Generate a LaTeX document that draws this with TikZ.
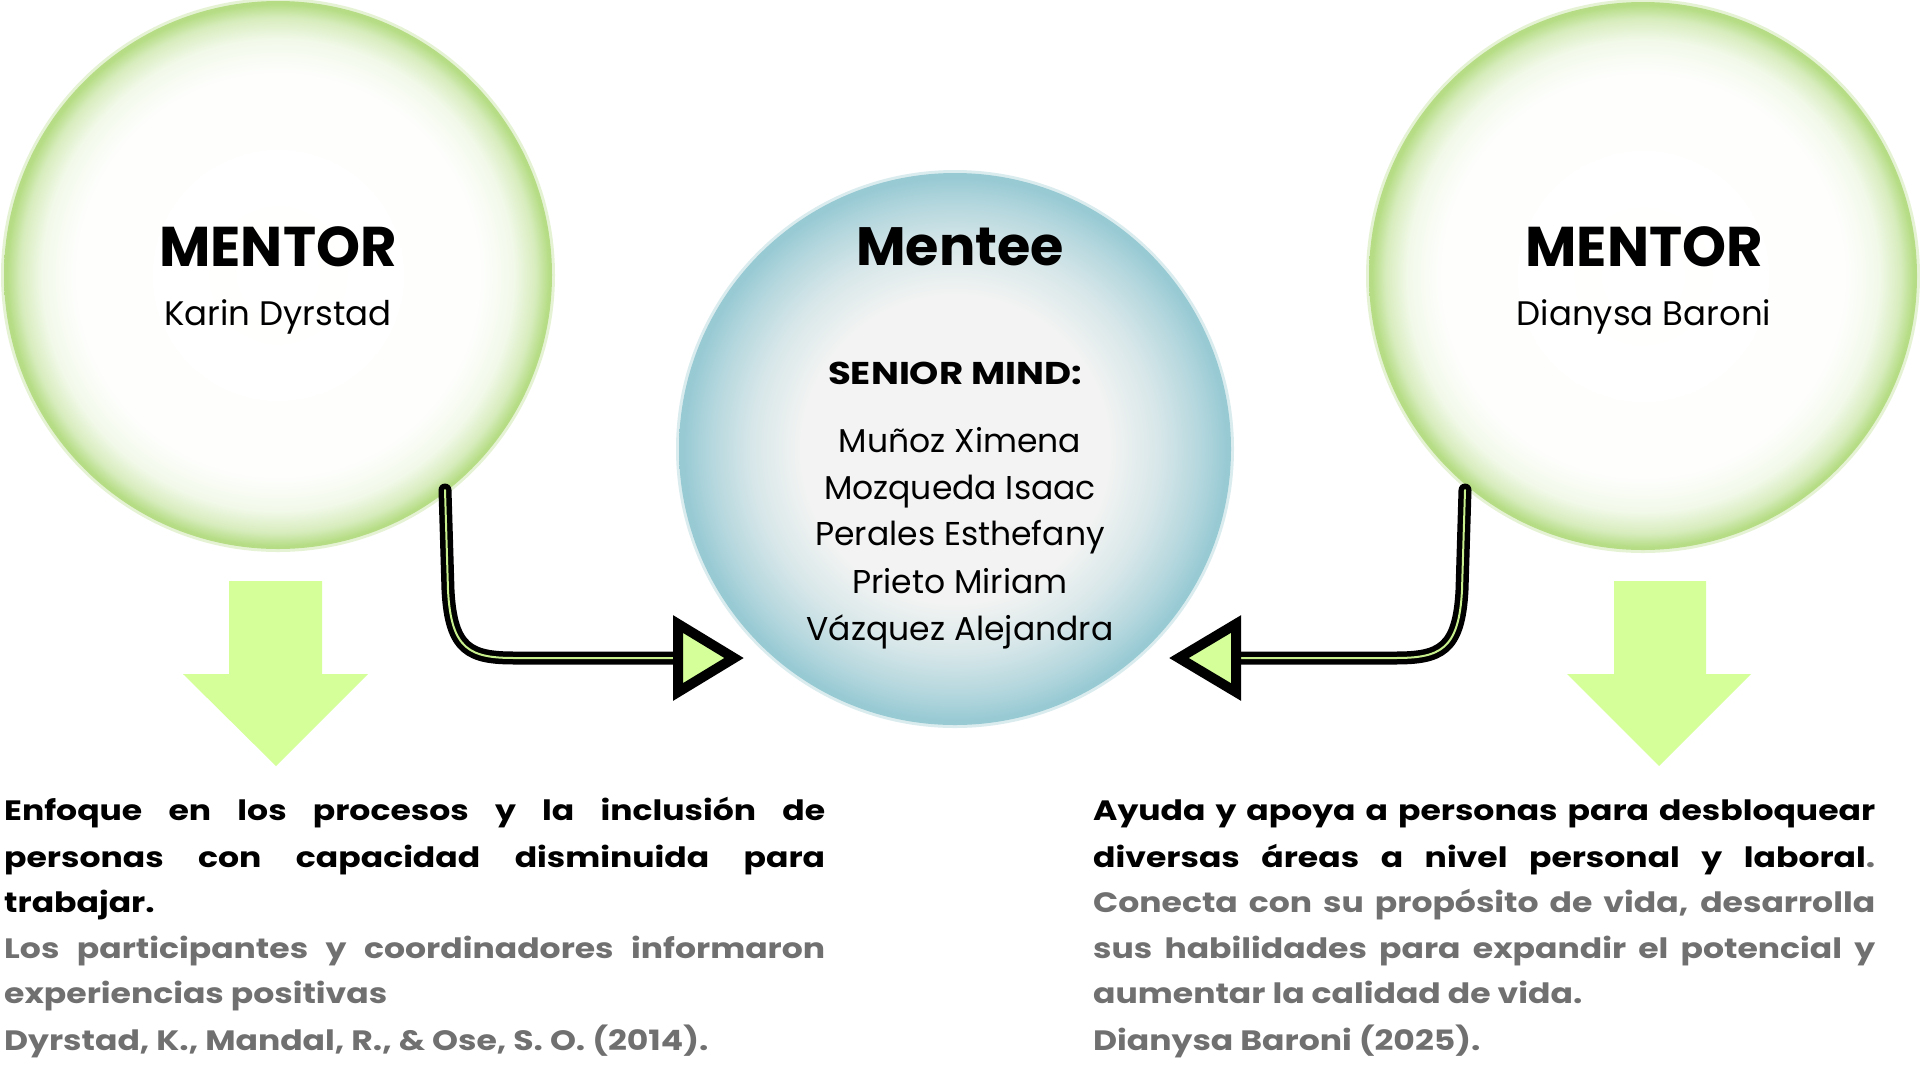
\documentclass[tikz,border=0pt]{standalone}
\usepackage{fontspec}
\setmainfont{Poppins}
\newfontfamily\widefont[FakeStretch=1.18]{Poppins}
\definecolor{gedge}{HTML}{B6DD86}
\definecolor{tedge}{HTML}{98CAD4}
\definecolor{tcen}{HTML}{F2F3F2}
\definecolor{lime}{HTML}{D4FF99}
\definecolor{limeline}{HTML}{C8F08C}
\definecolor{txtgray}{HTML}{707070}
\pgfdeclareradialshading{gball}{\pgfpointorigin}{color(0bp)=(white); color(18.5bp)=(white!98!gedge); color(21.5bp)=(gedge!18!white); color(23.5bp)=(gedge!55!white); color(24.7bp)=(gedge); color(25bp)=(gedge); color(50bp)=(gedge)}
\pgfdeclareradialshading{tball}{\pgfpointorigin}{color(0bp)=(tcen); color(14bp)=(tcen); color(18.5bp)=(tedge!30!tcen); color(22.5bp)=(tedge!72!tcen); color(24.6bp)=(tedge); color(25bp)=(tedge); color(50bp)=(tedge)}
\tikzset{
  greenball/.style={circle, minimum size=548pt, inner sep=0pt, shade, shading=gball},
  tealball/.style={circle, minimum size=552pt, inner sep=0pt, shade, shading=tball},
  bigtitle/.style={font=\fontsize{56}{60}\selectfont\bfseries, inner sep=0pt, anchor=base},
  mname/.style={font=\fontsize{34}{38}\selectfont, inner sep=0pt, anchor=base},
  senior/.style={font=\widefont\fontsize{31.5}{34}\selectfont\bfseries, inner sep=0pt, anchor=base},
  mlist/.style={font=\fontsize{33}{36}\selectfont, inner sep=0pt, anchor=base},
  btxt/.style={font=\widefont\fontsize{28}{32}\selectfont\bfseries, inner sep=0pt, anchor=base west},
  gtxt/.style={btxt, text=txtgray},
  conn/.style={draw=black, line width=5.5pt, double=limeline, double distance=2pt, line cap=round},
  tri/.style={draw=black, line width=10pt, line join=miter, fill=lime},
  downarrow/.style={fill=lime}
}
\begin{document}
\begin{tikzpicture}[x=1pt, y=-1pt]
\useasboundingbox (0,0) rectangle (1920,1080);
\fill[white] (0,0) rectangle (1920,1080);

% circles
\draw[gedge, line width=4pt, opacity=0.35] (278,275) circle[radius=275];
\node[greenball] (mentorL) at (278,275) {};
\draw[gedge, line width=4pt, opacity=0.35] (1643,276) circle[radius=275];
\node[greenball] (mentorR) at (1643,276) {};
\draw[tedge, line width=4pt, opacity=0.35] (955,449) circle[radius=277];
\node[tealball] (mentee) at (955,449) {};

% texts in circles
\node[bigtitle] (tL) at (278,266) {MENTOR};
\node[mname] (nL) at (278,325) {Karin Dyrstad};
\node[bigtitle] (tR) at (1644,266) {MENTOR};
\node[mname] (nR) at (1644,325) {Dianysa Baroni};
\node[bigtitle, font=\fontsize{54}{58}\selectfont\bfseries] (tM) at (960,265) {Mentee};
\node[senior] (sM) at (955,384) {SENIOR MIND:};
\node[mlist] (p1) at (960,452) {Muñoz Ximena};
\node[mlist] (p2) at (960,499) {Mozqueda Isaac};
\node[mlist] (p3) at (960,545) {Perales Esthefany};
\node[mlist] (p4) at (960,593) {Prieto Miriam};
\node[mlist] (p5) at (960,640) {Vázquez Alejandra};

% connectors
\coordinate (s1) at (445,490);
\coordinate (t1) at (678,658);
\coordinate (s2) at (1465,490);
\coordinate (t2) at (1236,658);
\draw[conn] (s1) -- (448,590) .. controls (451,650) and (470,658) .. (515,658) -- (t1);
\draw[tri] (678,624) -- (678,692) -- (734,658) -- cycle;
\draw[conn] (s2) -- (1462,590) .. controls (1459,650) and (1440,658) .. (1395,658) -- (t2);
\draw[tri] (1236,624) -- (1236,692) -- (1179,658) -- cycle;

% down arrows
\fill[downarrow] (229,581) -- (322,581) -- (322,674) -- (368,674) -- (276,766) -- (183,674) -- (229,674) -- cycle;
\fill[downarrow] (1614,581) -- (1706,581) -- (1706,674) -- (1751,674) -- (1659,766) -- (1567,674) -- (1614,674) -- cycle;

% left text block
\node[btxt] (l1) at (4,820) {\makebox[821pt][s]{Enfoque en los procesos y la inclusión de}};
\node[btxt] (l2) at (4,867) {\makebox[821pt][s]{personas con capacidad disminuida para}};
\node[btxt] (l3) at (4,912) {trabajar.};
\node[gtxt] (l4) at (4,958) {\makebox[821pt][s]{Los participantes y coordinadores informaron}};
\node[gtxt] (l5) at (4,1003) {experiencias positivas};
\node[gtxt] (l6) at (4,1050) {Dyrstad, K., Mandal, R., \& Ose, S. O. (2014).};

% right text block
\node[btxt] (r1) at (1093,820) {\makebox[782pt][s]{Ayuda y apoya a personas para desbloquear}};
\node[btxt] (r2) at (1093,867) {\makebox[782pt][s]{diversas áreas a nivel personal y laboral\textcolor{txtgray}{.}}};
\node[gtxt] (r3) at (1093,912) {\makebox[782pt][s]{Conecta con su propósito de vida, desarrolla}};
\node[gtxt] (r4) at (1093,958) {\makebox[782pt][s]{sus habilidades para expandir el potencial y}};
\node[gtxt] (r5) at (1093,1003) {aumentar la calidad de vida.};
\node[gtxt] (r6) at (1093,1050) {Dianysa Baroni (2025).};
\end{tikzpicture}
\end{document}
